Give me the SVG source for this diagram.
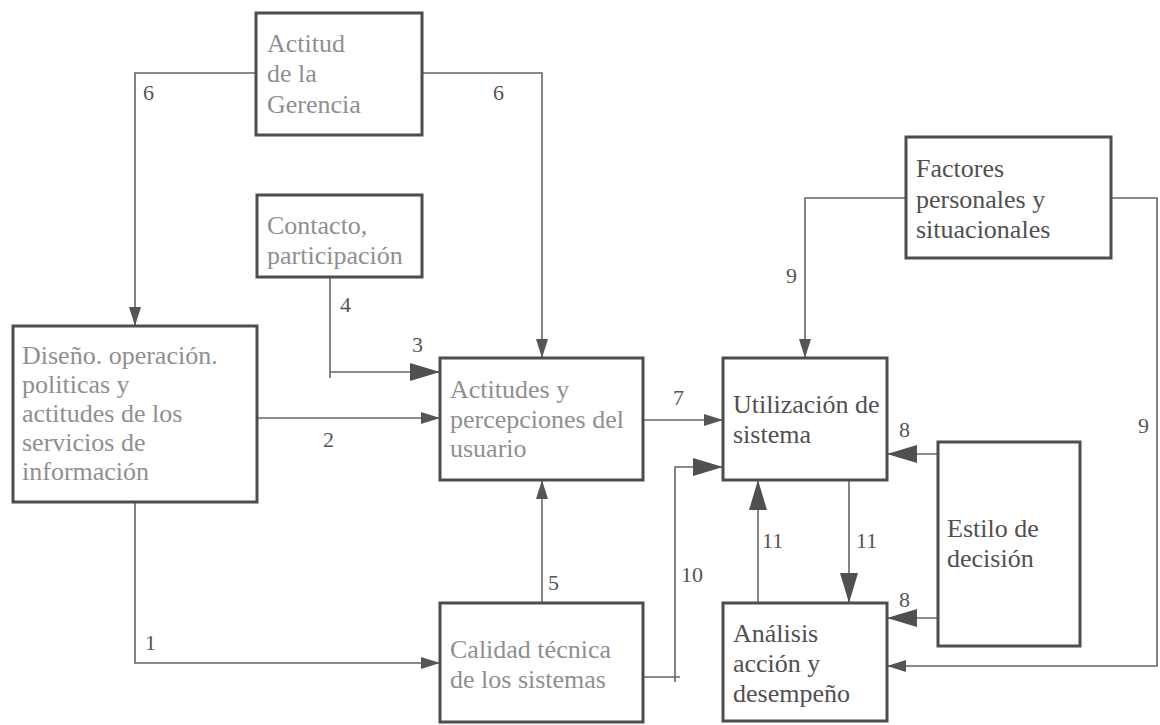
<svg xmlns="http://www.w3.org/2000/svg" width="1160" height="725" viewBox="0 0 1160 725">
<style>
.box{fill:#fff;stroke:#4d4d4d;stroke-width:3}
.t{font-size:26px}
.lt{fill:#8f8f8f}
.dk{fill:#505050}
.num{font-size:22px;fill:#555}
.c{fill:none;stroke:#666;stroke-width:1.6}
</style>
<defs>
<marker id="big" markerUnits="userSpaceOnUse" markerWidth="30" markerHeight="18" refX="30" refY="9" orient="auto"><path d="M0,0 L30,9 L0,18 z" fill="#505050"/></marker>
<marker id="sm" markerUnits="userSpaceOnUse" markerWidth="19" markerHeight="12" refX="19" refY="6" orient="auto"><path d="M0,0 L19,6 L0,12 z" fill="#555"/></marker>
</defs>
<rect width="1160" height="725" fill="#fff"/>
<g id="connectors">
<path class="c" d="M256,73 H135 V326" marker-end="url(#sm)"/>
<path class="c" d="M422,73 H542 V358" marker-end="url(#sm)"/>
<path class="c" d="M330,277 V378"/>
<path class="c" d="M330,372 H440" marker-end="url(#big)"/>
<path class="c" d="M257,418 H440" marker-end="url(#sm)"/>
<path class="c" d="M135,502 V663 H440" marker-end="url(#sm)"/>
<path class="c" d="M542,603 V480" marker-end="url(#sm)"/>
<path class="c" d="M643,420 H723" marker-end="url(#sm)"/>
<path class="c" d="M643,677 H680"/>
<path class="c" d="M675,682 V467 H723" marker-end="url(#big)"/>
<path class="c" d="M906,198 H805 V358" marker-end="url(#sm)"/>
<path class="c" d="M1111,198 H1157 V666 H887" marker-end="url(#sm)"/>
<path class="c" d="M938,454 H887" marker-end="url(#big)"/>
<path class="c" d="M938,618 H887" marker-end="url(#big)"/>
<path class="c" d="M758,603 V480" marker-end="url(#big)"/>
<path class="c" d="M849,480 V603" marker-end="url(#big)"/>
<g font-family="Liberation Serif, serif">
<text class="num" x="143" y="100">6</text>
<text class="num" x="493" y="100">6</text>
<text class="num" x="340" y="312">4</text>
<text class="num" x="412" y="352">3</text>
<text class="num" x="323" y="447">2</text>
<text class="num" x="673" y="405">7</text>
<text class="num" x="145" y="650">1</text>
<text class="num" x="548" y="590">5</text>
<text class="num" x="681" y="582">10</text>
<text class="num" x="786" y="283">9</text>
<text class="num" x="1138" y="433">9</text>
<text class="num" x="899" y="437">8</text>
<text class="num" x="899" y="607">8</text>
<text class="num" x="762" y="548">11</text>
<text class="num" x="856" y="548">11</text>
</g>
</g>
<g id="actitud-gerencia" font-family="Liberation Serif, serif">
<rect class="box" x="256" y="13" width="166" height="122"/>
<text class="t lt" x="267" y="52">Actitud</text>
<text class="t lt" x="267" y="82">de la</text>
<text class="t lt" x="267" y="113">Gerencia</text>
</g>
<g id="contacto" font-family="Liberation Serif, serif">
<rect class="box" x="257" y="195" width="165" height="82"/>
<text class="t lt" x="267" y="234">Contacto,</text>
<text class="t lt" x="267" y="264">participación</text>
</g>
<g id="diseno" font-family="Liberation Serif, serif">
<rect class="box" x="13" y="326" width="244" height="176"/>
<text class="t lt" x="22" y="364">Diseño. operación.</text>
<text class="t lt" x="22" y="393">politicas y</text>
<text class="t lt" x="22" y="422">actitudes de los</text>
<text class="t lt" x="22" y="451">servicios de</text>
<text class="t lt" x="22" y="480">información</text>
</g>
<g id="actitudes-usuario" font-family="Liberation Serif, serif">
<rect class="box" x="440" y="358" width="203" height="122"/>
<text class="t lt" x="450" y="398">Actitudes y</text>
<text class="t lt" x="450" y="428">percepciones del</text>
<text class="t lt" x="450" y="457">usuario</text>
</g>
<g id="utilizacion" font-family="Liberation Serif, serif">
<rect class="box" x="723" y="358" width="164" height="122"/>
<text class="t dk" x="733" y="413">Utilización de</text>
<text class="t dk" x="733" y="443">sistema</text>
</g>
<g id="factores" font-family="Liberation Serif, serif">
<rect class="box" x="906" y="137" width="205" height="121"/>
<text class="t dk" x="916" y="177">Factores</text>
<text class="t dk" x="916" y="208">personales y</text>
<text class="t dk" x="916" y="238">situacionales</text>
</g>
<g id="estilo" font-family="Liberation Serif, serif">
<rect class="box" x="938" y="442" width="142" height="204"/>
<text class="t dk" x="947" y="537">Estilo de</text>
<text class="t dk" x="947" y="567">decisión</text>
</g>
<g id="analisis" font-family="Liberation Serif, serif">
<rect class="box" x="723" y="603" width="164" height="118"/>
<text class="t dk" x="733" y="642">Análisis</text>
<text class="t dk" x="733" y="672">acción y</text>
<text class="t dk" x="733" y="702">desempeño</text>
</g>
<g id="calidad" font-family="Liberation Serif, serif">
<rect class="box" x="440" y="603" width="203" height="119"/>
<text class="t lt" x="450" y="658">Calidad técnica</text>
<text class="t lt" x="450" y="688">de los sistemas</text>
</g>
</svg>
